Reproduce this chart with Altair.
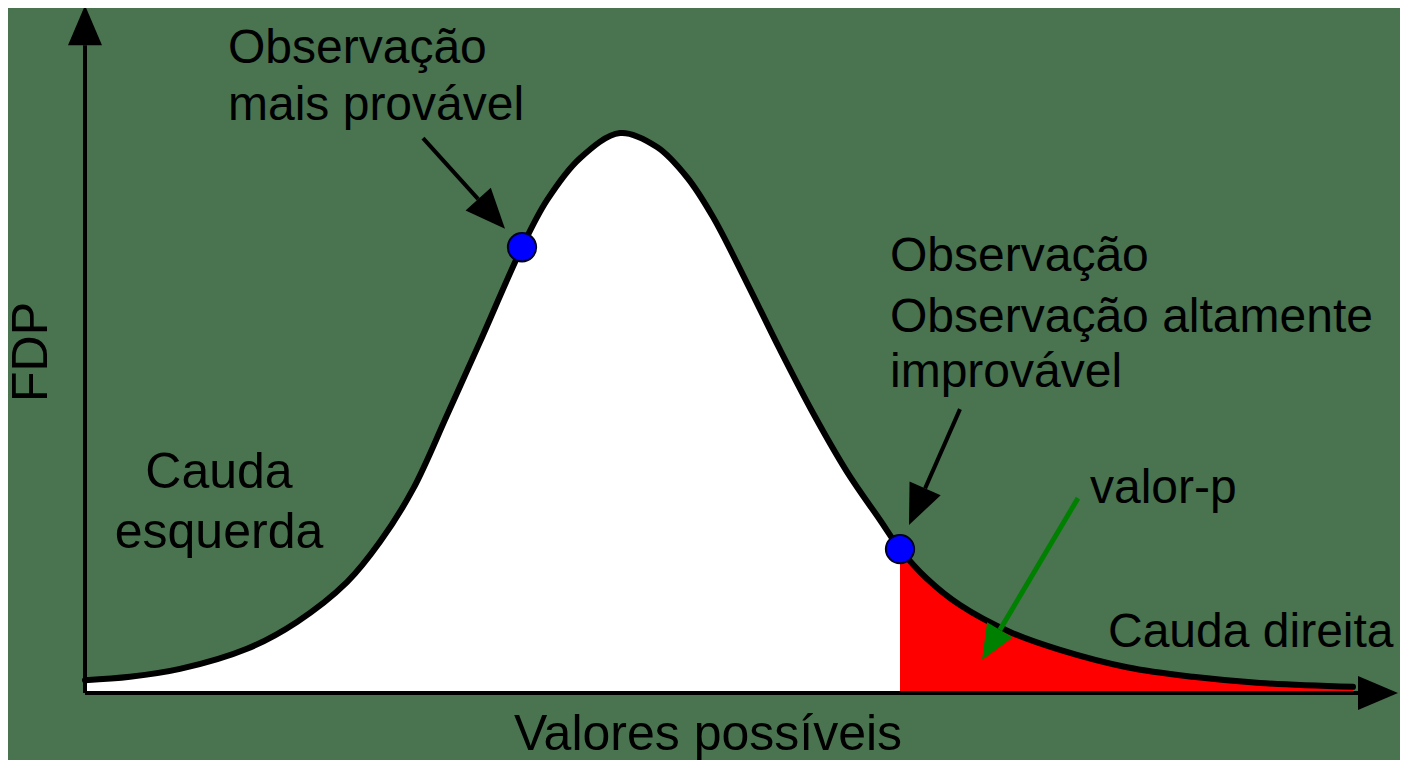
import math
import altair as alt
import pandas as pd

# ---------------- data (x: possible value, y: density, peak = 1) ----------------
curve_x = [0.00, 0.45, 0.95, 1.62, 2.12, 2.62, 2.95, 3.28, 3.62, 3.95, 4.37, 4.62,
           4.95, 5.35, 5.72, 6.02, 6.28, 6.62, 6.95, 7.28, 7.62, 7.95, 8.15, 8.42,
           8.75, 9.25, 9.75, 10.42, 11.08, 11.75, 12.68]
curve_y = [0.023, 0.029, 0.043, 0.079, 0.127, 0.198, 0.270, 0.364, 0.496, 0.627,
           0.796, 0.880, 0.955, 1.000, 0.975, 0.921, 0.850, 0.732, 0.613, 0.500,
           0.395, 0.309, 0.257, 0.204, 0.157, 0.109, 0.077, 0.046, 0.029, 0.018,
           0.011]
p_cut = 8.15

# observations marked on the curve
obs_x = [4.37, 8.15]
obs_y = [0.796, 0.257]

# pointer arrows (start -> tip)
arrow_x0 = [3.38, 8.75, 9.93]
arrow_y0 = [0.991, 0.507, 0.348]
arrow_x1 = [4.20, 8.24, 8.97]
arrow_y1 = [0.829, 0.300, 0.059]
arrow_col = ["black", "black", "#008000"]

# axis extents (arrow tips)
x_axis_tip = 13.13
y_axis_tip = 1.228

# texts
left_labels = ["Observação", "mais provável", "Observação", "Observação altamente",
               "improvável", "valor-p", "Cauda direita"]
left_x = [1.43, 1.43, 8.05, 8.05, 8.05, 10.05, 10.23]
left_y = [1.125, 1.023, 0.754, 0.644, 0.546, 0.339, 0.082]

center_labels = ["Cauda", "esquerda", "Valores possíveis"]
center_x = [1.34, 1.34, 6.23]
center_y = [0.366, 0.259, -0.101]

y_title = "FDP"
y_title_x = -0.38
y_title_y = 0.609

# ---------------- scales / geometry ----------------
X_DOM = [-0.77, 13.15]
Y_DOM = [-0.1196, 1.2232]
W, H = 1392, 752
PX_X = W / (X_DOM[1] - X_DOM[0])
PX_Y = H / (Y_DOM[1] - Y_DOM[0])

xs = alt.Scale(domain=X_DOM, nice=False, zero=False)
ys = alt.Scale(domain=Y_DOM, nice=False, zero=False)

HEAD = "M0,0L0.425,1L-0.425,1Z"
INTERP = "catmull-rom"


def head_geom(x0, y0, x1, y1, length):
    dxp = (x1 - x0) * PX_X
    dyp = -(y1 - y0) * PX_Y
    n = math.hypot(dxp, dyp)
    ux, uy = dxp / n, dyp / n
    ang = math.degrees(math.atan2(ux, -uy)) % 360
    bx = x1 - ux * length / PX_X
    by = y1 + uy * length / PX_Y
    return ang, bx, by


curve = pd.DataFrame({"x": curve_x, "y": curve_y})
white = curve[curve.x <= p_cut]
red = curve[curve.x >= p_cut]

shafts, heads = [], []
# axes
for (x0, y0, x1, y1) in [(0, 0, x_axis_tip, 0), (0, 0, 0, y_axis_tip)]:
    ang, bx, by = head_geom(x0, y0, x1, y1, 40)
    shafts.append(dict(x=x0, y=y0, x2=bx, y2=by, c="black", w=4))
    heads.append(dict(x=x1, y=y1, a=ang, c="black", s=6400))
for x0, y0, x1, y1, c in zip(arrow_x0, arrow_y0, arrow_x1, arrow_y1, arrow_col):
    L = 35 if c != "black" else 40
    ang, bx, by = head_geom(x0, y0, x1, y1, L)
    shafts.append(dict(x=x0, y=y0, x2=bx, y2=by, c=c, w=5 if c != "black" else 4))
    heads.append(dict(x=x1, y=y1, a=ang, c=c, s=(2 * L) ** 2))
shafts = pd.DataFrame(shafts)
heads = pd.DataFrame(heads)

X = lambda: alt.X("x:Q", scale=xs, axis=None)
Y = lambda: alt.Y("y:Q", scale=ys, axis=None)

white_area = alt.Chart(white).mark_area(color="white", interpolate=INTERP).encode(
    x=X(), y=Y(), y2=alt.datum(0))
red_area = alt.Chart(red).mark_area(color="#ff0000", interpolate=INTERP).encode(
    x=X(), y=Y(), y2=alt.datum(0))
line = alt.Chart(curve).mark_line(color="black", strokeWidth=6, interpolate=INTERP,
                                  strokeCap="round", strokeJoin="round").encode(x=X(), y=Y())

shaft_layer = alt.Chart(shafts).mark_rule(strokeCap="butt").encode(
    x=X(), y=Y(), x2="x2:Q", y2="y2:Q",
    color=alt.Color("c:N", scale=None),
    strokeWidth=alt.StrokeWidth("w:Q", scale=None))
head_layer = alt.Chart(heads).mark_point(shape=HEAD, filled=True, opacity=1, strokeWidth=0).encode(
    x=X(), y=Y(),
    angle=alt.Angle("a:Q", scale=None),
    size=alt.Size("s:Q", scale=None),
    color=alt.Color("c:N", scale=None))

obs = pd.DataFrame({"x": obs_x, "y": obs_y})
obs_layer = alt.Chart(obs).mark_point(shape="circle", filled=True, fill="#0000ff", size=800,
                                      stroke="#000022", strokeWidth=2, opacity=1).encode(x=X(), y=Y())

FONT = "Liberation Sans"
lt = pd.DataFrame({"x": left_x, "y": left_y, "t": left_labels})
left_text = alt.Chart(lt).mark_text(align="left", baseline="alphabetic", font=FONT,
                                    fontSize=48, color="black").encode(x=X(), y=Y(), text="t:N")
ct = pd.DataFrame({"x": center_x, "y": center_y, "t": center_labels})
center_text = alt.Chart(ct).mark_text(align="center", baseline="alphabetic", font=FONT,
                                      fontSize=50, color="black").encode(x=X(), y=Y(), text="t:N")
yt = pd.DataFrame({"x": [y_title_x], "y": [y_title_y], "t": [y_title]})
ytitle = alt.Chart(yt).mark_text(align="center", baseline="alphabetic", font=FONT, angle=270,
                                 fontSize=50, color="black").encode(x=X(), y=Y(), text="t:N")

chart = alt.layer(white_area, red_area, line, shaft_layer, head_layer, obs_layer,
                  left_text, center_text, ytitle).properties(
    width=W, height=H, padding=0, autosize=alt.AutoSizeParams(type="none"),
    background="#4a7350"
).configure_view(strokeWidth=0)

chart.save("out.html", embed_options={"renderer": "svg", "actions": False})
